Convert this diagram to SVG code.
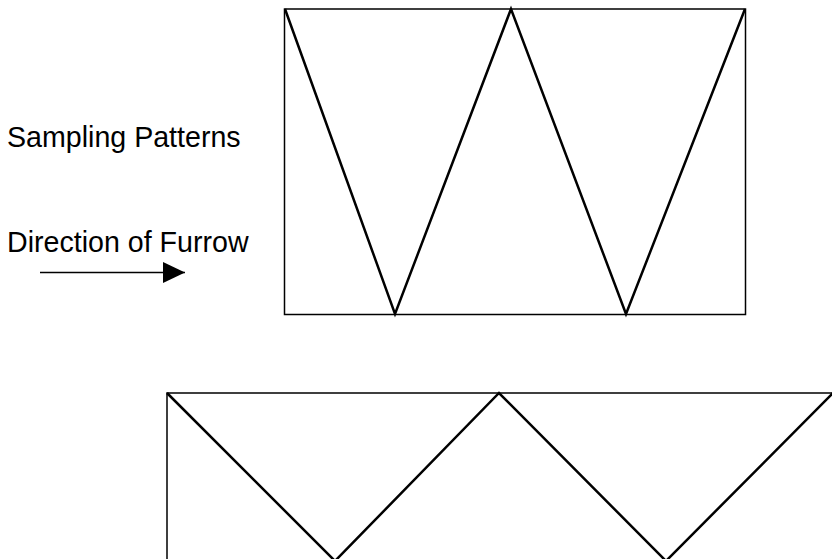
<svg xmlns="http://www.w3.org/2000/svg" width="832" height="559" viewBox="0 0 832 559">
<defs>
<style>
.frame{fill:none;stroke:#000;stroke-width:1.5}
.zig{fill:none;stroke:#000;stroke-width:2.5;stroke-linejoin:miter}
.lbl{font-family:"Liberation Sans",Arial,sans-serif;font-size:28.6px;fill:#000}
</style>
<marker id="ah" markerWidth="22" markerHeight="21" refX="22" refY="10.5" orient="auto" markerUnits="userSpaceOnUse">
<path d="M0,0 L22,10.5 L0,21 Z" fill="#000"/>
</marker>
</defs>
<rect width="832" height="559" fill="#fff"/>
<g id="label-sampling"><text class="lbl" x="7" y="147">Sampling Patterns</text></g>
<g id="label-direction"><text class="lbl" x="7" y="252">Direction of Furrow</text></g>
<g id="top-pattern">
<rect class="frame" x="284.5" y="9" width="461" height="305.5"/>
<polyline class="zig" points="285,9 395,314 511,9 626,314 745,9"/>
</g>
<g id="bottom-pattern">
<rect class="frame" x="167" y="393" width="670" height="200"/>
<polyline class="zig" points="167,393 335,561 499,393 666,561 833,393"/>
</g>
<g id="connectors">
<line x1="40" y1="272.5" x2="185" y2="272.5" stroke="#000" stroke-width="1.5" marker-end="url(#ah)"/>
</g>
</svg>
